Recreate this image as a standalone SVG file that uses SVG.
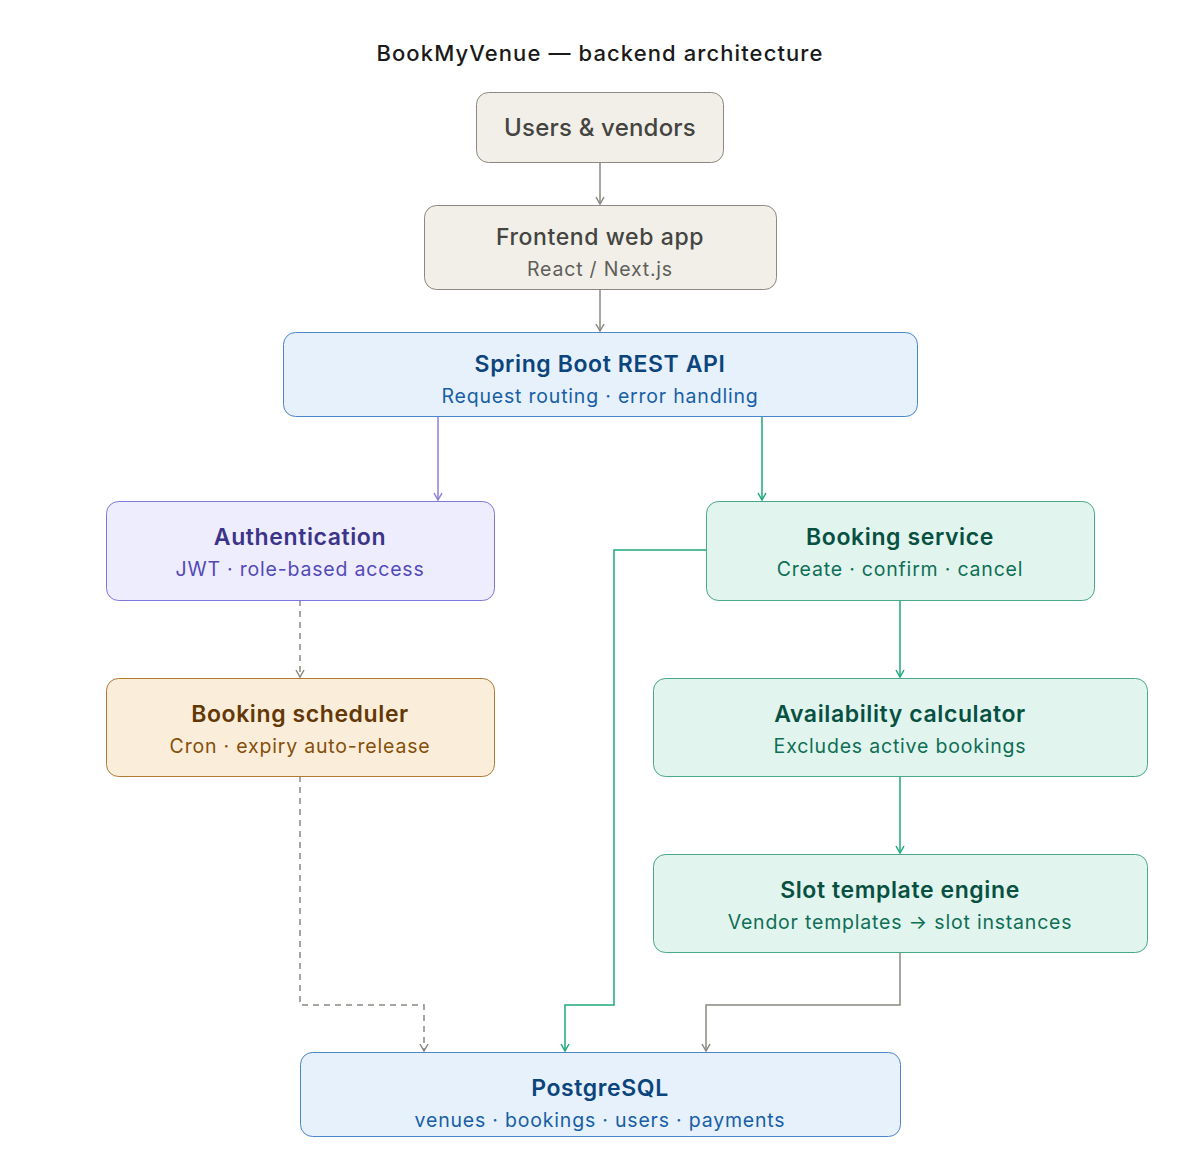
<svg xmlns="http://www.w3.org/2000/svg" width="1200" height="1165" viewBox="0 0 1200 1165">
<style>
text{font-family:Inter,"Noto Sans","Liberation Sans",sans-serif;text-anchor:middle}
.t{font-size:23px;font-weight:600;letter-spacing:0.6px}
.s{font-size:19.5px;font-weight:400;letter-spacing:0.8px}
.gray rect{fill:#f1efe8;stroke:#8a8880}
.gray .t{fill:#444441;font-weight:500}
.gray .s{fill:#5f5e5a}
.blue rect{fill:#e6f1fb;stroke:#4a86c8}
.blue .t{fill:#0c447c}
.blue .s{fill:#185fa5}
.purple rect{fill:#eeedfe;stroke:#7f77dd}
.purple .t{fill:#3c3489}
.purple .s{fill:#534ab7}
.green rect{fill:#e1f5ee;stroke:#4aa886}
.green .t{fill:#085041}
.green .s{fill:#0f6e56}
.orange rect{fill:#faeeda;stroke:#b07a35}
.orange .t{fill:#633806}
.orange .s{fill:#854f0b}
rect{stroke-width:1}
.c{fill:none;stroke-width:1.5}
.cg{stroke:#8a8880}
.cp{stroke:#8b80d8}
.cn{stroke:#1fa97c}
.d{stroke-dasharray:6 5}
</style>
<defs>
<marker id="ag" viewBox="0 0 10 10" refX="8" refY="5" markerWidth="10" markerHeight="10" markerUnits="userSpaceOnUse" orient="auto"><path d="M1,1 L8,5 L1,9" fill="none" stroke="#8a8880" stroke-width="1.5"/></marker>
<marker id="ap" viewBox="0 0 10 10" refX="8" refY="5" markerWidth="10" markerHeight="10" markerUnits="userSpaceOnUse" orient="auto"><path d="M1,1 L8,5 L1,9" fill="none" stroke="#8b80d8" stroke-width="1.5"/></marker>
<marker id="an" viewBox="0 0 10 10" refX="8" refY="5" markerWidth="10" markerHeight="10" markerUnits="userSpaceOnUse" orient="auto"><path d="M1,1 L8,5 L1,9" fill="none" stroke="#1fa97c" stroke-width="1.5"/></marker>
</defs>
<rect x="0" y="0" width="1200" height="1165" fill="#ffffff"/>
<text x="600" y="61" style="font-size:22px;font-weight:500;fill:#1a1a1a;letter-spacing:1.1px">BookMyVenue — backend architecture</text>

<g id="connectors">
<path class="c cg" d="M600,162 V204" marker-end="url(#ag)"/>
<path class="c cg" d="M600,289 V331" marker-end="url(#ag)"/>
<path class="c cp" d="M438,416 V500" marker-end="url(#ap)"/>
<path class="c cn" d="M762,416 V500" marker-end="url(#an)"/>
<path class="c cg d" d="M300,600 V677" marker-end="url(#ag)"/>
<path class="c cn" d="M900,600 V677" marker-end="url(#an)"/>
<path class="c cn" d="M900,776 V853" marker-end="url(#an)"/>
<path class="c cn" d="M706,550 H614 V1005 H565 V1051" marker-end="url(#an)"/>
<path class="c cg d" d="M300,776 V1005 H424 V1051" marker-end="url(#ag)"/>
<path class="c cg" d="M900,952 V1005 H706 V1051" marker-end="url(#ag)"/>
</g>

<g id="users" class="gray">
<rect x="476.5" y="92.5" width="247" height="70" rx="12"/>
<text class="t" x="600" y="136" style="font-size:24px;letter-spacing:0.2px">Users &amp; vendors</text>
</g>
<g id="frontend" class="gray">
<rect x="424.5" y="205.5" width="352" height="84" rx="12"/>
<text class="t" x="600" y="245">Frontend web app</text>
<text class="s" x="600" y="276">React / Next.js</text>
</g>
<g id="api" class="blue">
<rect x="283.5" y="332.5" width="634" height="84" rx="12"/>
<text class="t" x="600" y="372">Spring Boot REST API</text>
<text class="s" x="600" y="403">Request routing · error handling</text>
</g>
<g id="auth" class="purple">
<rect x="106.5" y="501.5" width="388" height="99" rx="12"/>
<text class="t" x="300" y="545">Authentication</text>
<text class="s" x="300" y="576">JWT · role-based access</text>
</g>
<g id="booking" class="green">
<rect x="706.5" y="501.5" width="388" height="99" rx="12"/>
<text class="t" x="900" y="545">Booking service</text>
<text class="s" x="900" y="576">Create · confirm · cancel</text>
</g>
<g id="scheduler" class="orange">
<rect x="106.5" y="678.5" width="388" height="98" rx="12"/>
<text class="t" x="300" y="722">Booking scheduler</text>
<text class="s" x="300" y="753">Cron · expiry auto-release</text>
</g>
<g id="availability" class="green">
<rect x="653.5" y="678.5" width="494" height="98" rx="12"/>
<text class="t" x="900" y="722">Availability calculator</text>
<text class="s" x="900" y="753">Excludes active bookings</text>
</g>
<g id="slots" class="green">
<rect x="653.5" y="854.5" width="494" height="98" rx="12"/>
<text class="t" x="900" y="898">Slot template engine</text>
<text class="s" x="900" y="929">Vendor templates → slot instances</text>
</g>
<g id="postgres" class="blue">
<rect x="300.5" y="1052.5" width="600" height="84" rx="12"/>
<text class="t" x="600" y="1096">PostgreSQL</text>
<text class="s" x="600" y="1127">venues · bookings · users · payments</text>
</g>
</svg>
